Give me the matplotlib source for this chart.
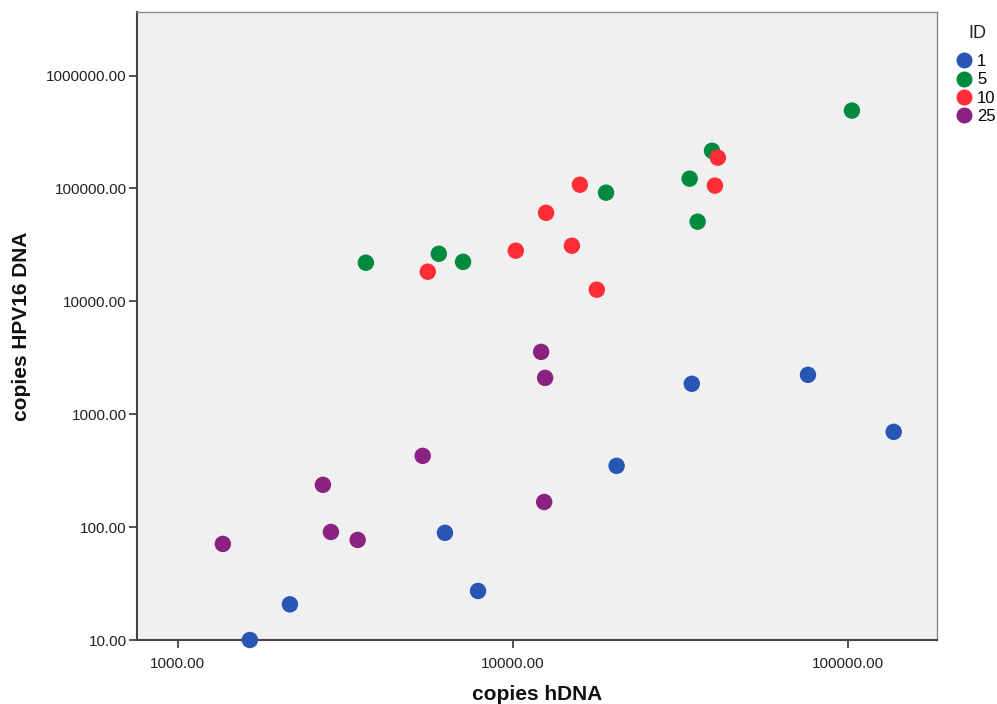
import numpy as np
import matplotlib
matplotlib.use("Agg")
import matplotlib.pyplot as plt
from matplotlib.ticker import FixedLocator, FormatStrFormatter, NullLocator
from matplotlib.lines import Line2D

plt.rcParams['font.family'] = ['Liberation Sans', 'DejaVu Sans']

# Données (copies hDNA, copies HPV16 DNA) par ID
ids = ["1", "5", "10", "25"]
couleurs = ["#2756b3", "#008a3e", "#fe2d36", "#8b2281"]

x_id1 = [1640, 2160, 6270, 7870, 20400, 34200, 76000, 137000]
y_id1 = [10, 20.7, 89, 27.2, 349, 1862, 2234, 698]

x_id5 = [3640, 6010, 7100, 18970, 33700, 35600, 39300, 102800]
y_id5 = [21990, 26400, 22400, 91800, 122200, 50800, 216000, 490000]

x_id10 = [5570, 10200, 12560, 15850, 15000, 17800, 40100, 40900]
y_id10 = [18300, 28100, 60900, 108000, 31100, 12700, 106000, 187500]

x_id25 = [1362, 2710, 2863, 3440, 5380, 12140, 12480, 12400]
y_id25 = [71, 237, 90.6, 77, 428, 3570, 2100, 167]

series_x = [x_id1, x_id5, x_id10, x_id25]
series_y = [y_id1, y_id5, y_id10, y_id25]

x_ticks = [1000, 10000, 100000]
y_ticks = [10, 100, 1000, 10000, 100000, 1000000]

# Figure
fig = plt.figure(figsize=(9.97, 7.04), dpi=100)
ax = fig.add_axes([137 / 997, 64 / 704, 800 / 997, 628 / 704])
ax.set_facecolor("#f0f0f0")

for xs, ys, c in zip(series_x, series_y, couleurs):
    ax.scatter(xs, ys, s=140, color=c, edgecolors="none", zorder=3, clip_on=False)

# Axes logarithmiques
ax.set_xscale("log")
ax.set_yscale("log")
ax.set_xlim(755, 184500)
ax.set_ylim(10, 3.66e6)

ax.xaxis.set_major_locator(FixedLocator(x_ticks))
ax.yaxis.set_major_locator(FixedLocator(y_ticks))
ax.xaxis.set_minor_locator(NullLocator())
ax.yaxis.set_minor_locator(NullLocator())
ax.xaxis.set_major_formatter(FormatStrFormatter("%.2f"))
ax.yaxis.set_major_formatter(FormatStrFormatter("%.2f"))
ax.tick_params(axis="both", direction="out", length=6, width=1.2,
               color="#333333", labelsize=11, labelcolor="#222222")
ax.tick_params(axis="x", pad=6)
ax.tick_params(axis="y", pad=1.5)

# Cadre
for cote in ["left", "bottom"]:
    ax.spines[cote].set_color("#444444")
    ax.spines[cote].set_linewidth(1.5)
for cote in ["top", "right"]:
    ax.spines[cote].set_color("#8a8a8a")
    ax.spines[cote].set_linewidth(1.0)

# Titres des axes
ax.set_xlabel("copies hDNA", fontsize=15, fontweight="bold", color="#111111")
ax.set_ylabel("copies HPV16 DNA", fontsize=15, fontweight="bold", color="#111111")
ax.xaxis.set_label_coords(0.5, -0.072)
ax.yaxis.set_label_coords(-0.132, 0.5)

# Légende (titre placé à part)
fig.text(977 / 997, 1 - 33 / 704, "ID", fontsize=13, color="#222222",
         ha="center", va="center")
poignees = [Line2D([], [], linestyle="none", marker="o", markersize=11.5,
                   markerfacecolor=c, markeredgecolor="none") for c in couleurs]
leg = fig.legend(poignees, ids, loc="upper left",
                 bbox_to_anchor=(957 / 997, 1 - 54 / 704), frameon=False,
                 fontsize=12, handlelength=0.8, handletextpad=0.4,
                 labelspacing=0.2, borderpad=0.0, borderaxespad=0.0)

fig.savefig("out.png", dpi=100)
